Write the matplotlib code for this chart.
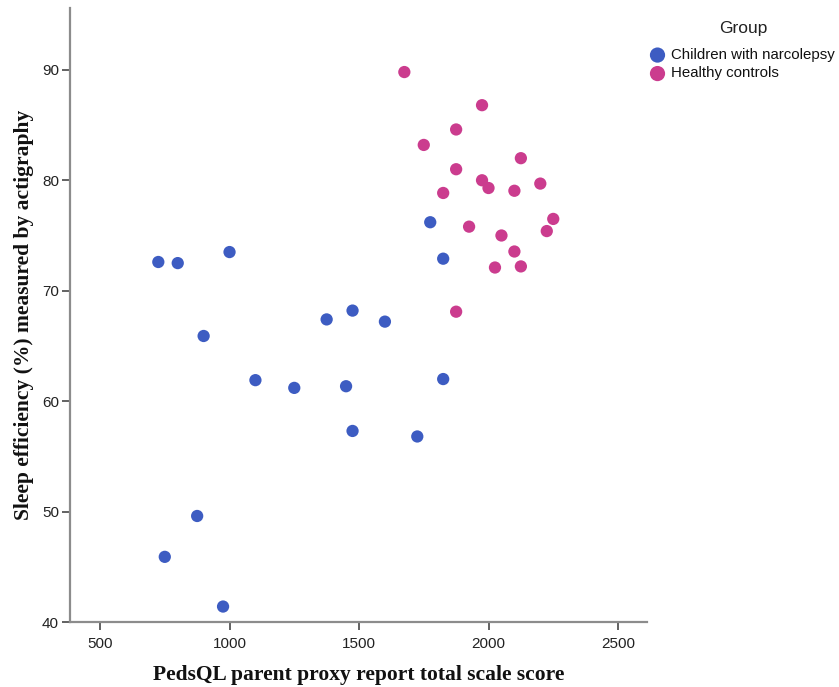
import matplotlib
matplotlib.use("Agg")
import matplotlib.pyplot as plt

# PedsQL parent proxy total score vs. sleep efficiency, by group
narcolepsy_pedsql = [725, 800, 1000, 900, 1375, 1475, 1600, 1100, 1250, 1450,
                     1475, 1725, 875, 750, 975, 1825, 1775, 1825]
narcolepsy_sleep = [72.6, 72.5, 73.5, 65.9, 67.4, 68.2, 67.2, 61.9, 61.2, 61.35,
                    57.3, 56.8, 49.6, 45.9, 41.4, 62.0, 76.2, 72.9]

control_pedsql = [1675, 1975, 1875, 1750, 2125, 1875, 1975, 2000, 2100, 2200,
                  1825, 2250, 1925, 2225, 2050, 2100, 2025, 2125, 1875]
control_sleep = [89.8, 86.8, 84.6, 83.2, 82.0, 81.0, 80.0, 79.3, 79.05, 79.7,
                 78.85, 76.5, 75.8, 75.4, 75.0, 73.55, 72.1, 72.2, 68.1]

group_labels = ["Children with narcolepsy", "Healthy controls"]
x_ticks = [500, 1000, 1500, 2000, 2500]
y_ticks = [40, 50, 60, 70, 80, 90]

blue = "#3D5CC2"
pink = "#CB3C8E"

W, H = 839, 687
fig = plt.figure(figsize=(W / 100, H / 100), dpi=100)
ax = fig.add_axes([70 / W, (H - 622) / H, (647 - 70) / W, (622 - 8) / H])

ax.scatter(narcolepsy_pedsql, narcolepsy_sleep, s=78, color=blue,
           edgecolors="none", label=group_labels[0], zorder=3)
ax.scatter(control_pedsql, control_sleep, s=78, color=pink,
           edgecolors="none", label=group_labels[1], zorder=3)

ax.set_xlim(384, 2612)
ax.set_ylim(40, 95.6)
ax.set_xticks(x_ticks)
ax.set_yticks(y_ticks)

for side in ("top", "right"):
    ax.spines[side].set_visible(False)
for side in ("left", "bottom"):
    ax.spines[side].set_color("#8c8c8c")
    ax.spines[side].set_linewidth(1.6)

ax.tick_params(axis="both", direction="out", length=6, width=1.3,
               color="#555555", labelcolor="#222222", labelsize=11)
for lbl in ax.get_xticklabels() + ax.get_yticklabels():
    lbl.set_family("Liberation Sans")
ax.tick_params(axis="x", pad=5)
ax.tick_params(axis="y", pad=2)

label_font = dict(family="Liberation Serif", weight="bold", size=15.5, color="#111111")
ax.set_xlabel("PedsQL parent proxy report total scale score", labelpad=10, **label_font)
ax.set_ylabel("Sleep efficiency (%) measured by actigraphy", labelpad=6, **label_font)

# Legend title drawn on its own, entries below it
fig.text(743 / W, 1 - 28 / H, "Group", ha="center", va="center",
         family="Liberation Sans", size=12.5, color="#222222")
leg = fig.legend(loc="upper left", bbox_to_anchor=(650 / W, 1 - 48 / H),
                 frameon=False, handlelength=1.0, handletextpad=0.4,
                 labelspacing=0.3, borderaxespad=0, borderpad=0,
                 prop={"family": "Liberation Sans", "size": 10.8})
for t in leg.get_texts():
    t.set_color("#111111")
for h in leg.legend_handles:
    h.set_sizes([120])

fig.savefig("out.png", dpi=100, facecolor="white")
